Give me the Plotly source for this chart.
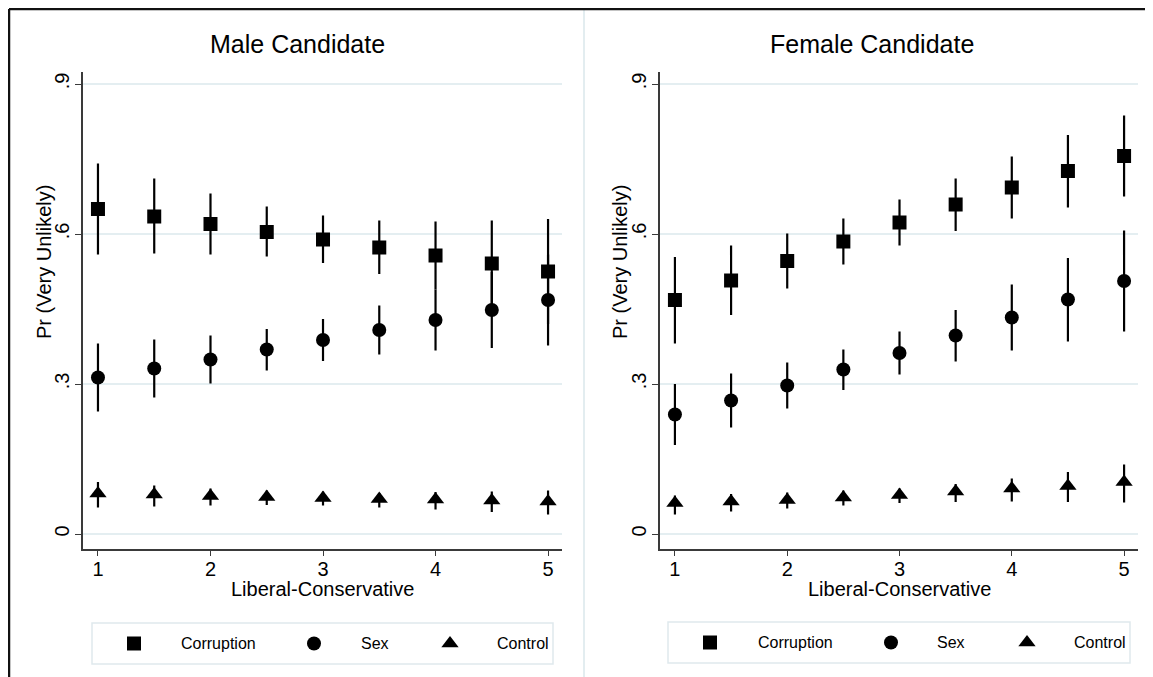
import plotly.graph_objects as go

# The page body has an 8px margin, so the figure is drawn 8px smaller and
# positions below are given in window pixels and converted with OFF.
OFF = 8
W, H = 1153 - OFF, 677 - OFF

ideology = [1, 1.5, 2, 2.5, 3, 3.5, 4, 4.5, 5]
x_ticks = [1, 2, 3, 4, 5]
y_ticks = [0, 0.3, 0.6, 0.9]
y_tick_text = ["0", ".3", ".6", ".9"]
panel_titles = ["Male Candidate", "Female Candidate"]
series_names = ["Corruption", "Sex", "Control"]

male_corr = [0.650, 0.635, 0.620, 0.604, 0.589, 0.573, 0.557, 0.541, 0.525]
male_corr_hi = [0.741, 0.711, 0.681, 0.655, 0.637, 0.627, 0.625, 0.627, 0.630]
male_corr_lo = [0.559, 0.561, 0.559, 0.555, 0.542, 0.520, 0.489, 0.455, 0.420]

male_sex = [0.313, 0.331, 0.349, 0.369, 0.388, 0.408, 0.428, 0.448, 0.468]
male_sex_hi = [0.381, 0.389, 0.397, 0.410, 0.430, 0.457, 0.489, 0.524, 0.559]
male_sex_lo = [0.245, 0.273, 0.301, 0.327, 0.346, 0.359, 0.367, 0.372, 0.377]

male_ctrl = [0.081, 0.079, 0.076, 0.074, 0.072, 0.070, 0.069, 0.067, 0.065]
male_ctrl_hi = [0.104, 0.097, 0.091, 0.087, 0.085, 0.082, 0.084, 0.085, 0.087]
male_ctrl_lo = [0.053, 0.055, 0.057, 0.058, 0.057, 0.053, 0.049, 0.044, 0.039]

fem_corr = [0.468, 0.507, 0.546, 0.585, 0.623, 0.659, 0.693, 0.726, 0.756]
fem_corr_hi = [0.554, 0.577, 0.601, 0.631, 0.669, 0.711, 0.755, 0.798, 0.837]
fem_corr_lo = [0.381, 0.438, 0.491, 0.539, 0.577, 0.606, 0.631, 0.653, 0.675]

fem_sex = [0.239, 0.267, 0.297, 0.329, 0.362, 0.397, 0.433, 0.469, 0.506]
fem_sex_hi = [0.300, 0.321, 0.343, 0.369, 0.405, 0.448, 0.499, 0.552, 0.607]
fem_sex_lo = [0.178, 0.213, 0.251, 0.288, 0.319, 0.345, 0.367, 0.385, 0.405]

fem_ctrl = [0.062, 0.065, 0.068, 0.073, 0.078, 0.085, 0.091, 0.096, 0.104]
fem_ctrl_hi = [0.077, 0.080, 0.083, 0.087, 0.091, 0.100, 0.111, 0.124, 0.139]
fem_ctrl_lo = [0.039, 0.045, 0.051, 0.057, 0.062, 0.064, 0.065, 0.064, 0.063]

FONT = "Liberation Sans, Arial, Helvetica, sans-serif"
GRID = "#e4eef1"
AXC = "#3a3a3a"
symbols = ["square", "circle", "triangle-up"]
sizes = [14, 14, 15]


def px(x):
    return (x - OFF) / W


def py(y):
    return 1 - (y - OFF) / H


fig = go.Figure()

panels = [
    ("x", "y", [(male_corr, male_corr_lo, male_corr_hi),
                (male_sex, male_sex_lo, male_sex_hi),
                (male_ctrl, male_ctrl_lo, male_ctrl_hi)]),
    ("x2", "y2", [(fem_corr, fem_corr_lo, fem_corr_hi),
                  (fem_sex, fem_sex_lo, fem_sex_hi),
                  (fem_ctrl, fem_ctrl_lo, fem_ctrl_hi)]),
]

for xa, ya, series in panels:
    for (vals, lo, hi), sym, sz, name in zip(series, symbols, sizes, series_names):
        fig.add_trace(go.Scatter(
            x=ideology, y=vals, mode="markers", name=name, showlegend=False,
            xaxis=xa, yaxis=ya,
            marker=dict(symbol=sym, size=sz, color="black", line=dict(width=0)),
            error_y=dict(type="data", symmetric=False,
                         array=[h - v for h, v in zip(hi, vals)],
                         arrayminus=[v - l for v, l in zip(vals, lo)],
                         color="black", thickness=2.2, width=0),
        ))

y_dom = [py(548.5), py(72)]
y_rng = [-0.029, 0.924]
x_rng = [0.867, 5.124]

common_x = dict(range=x_rng, tickvals=x_ticks, ticks="outside", ticklen=6, tickwidth=1.3,
                tickcolor=AXC, showline=True, linecolor=AXC, linewidth=1.5,
                showgrid=False, zeroline=False, ticklabelstandoff=-4,
                tickfont=dict(family=FONT, size=20, color="black"))
common_y = dict(range=y_rng, tickvals=y_ticks, ticktext=y_tick_text, tickangle=-90,
                ticks="outside", ticklen=6, tickwidth=1.3, tickcolor=AXC,
                showline=True, linecolor=AXC, linewidth=1.5, ticklabelstandoff=-2,
                showgrid=True, gridcolor=GRID, gridwidth=1.6, zeroline=False,
                tickfont=dict(family=FONT, size=20, color="black"), domain=y_dom)

fig.update_layout(
    xaxis=dict(domain=[px(83), px(562)], anchor="y", **common_x),
    yaxis=dict(anchor="x", **common_y),
    xaxis2=dict(domain=[px(660), px(1138)], anchor="y2", **common_x),
    yaxis2=dict(anchor="x2", **common_y),
    xaxis3=dict(domain=[0, 1], range=[OFF, 1153], visible=False, anchor="y3", fixedrange=True),
    yaxis3=dict(domain=[0, 1], range=[677, OFF], visible=False, anchor="x3", fixedrange=True),
)

# legend boxes, symbols and labels (window pixel positions)
legend_specs = [
    (92, 553, 623, 664, [134, 314, 450], [218, 375, 523]),
    (668, 1130, 622, 663, [710, 891, 1027], [795, 951, 1100]),
]
shapes = []
annotations = []
for (x0, x1, y0, y1, sym_x, txt_x) in legend_specs:
    shapes.append(dict(type="rect", xref="paper", yref="paper",
                       x0=px(x0), x1=px(x1), y0=py(y1), y1=py(y0),
                       line=dict(color="#dfe9ed", width=1.5), fillcolor="white", layer="below"))
    yc = (y0 + y1) / 2
    for sx, tx, sym, sz, name in zip(sym_x, txt_x, symbols, sizes, series_names):
        fig.add_trace(go.Scatter(x=[sx], y=[yc], mode="markers", xaxis="x3", yaxis="y3",
                                 showlegend=False, hoverinfo="skip",
                                 marker=dict(symbol=sym, size=sz, color="black")))
        annotations.append(dict(text=name, x=px(tx), y=py(yc), xref="paper", yref="paper",
                                showarrow=False, xanchor="center", yanchor="middle",
                                font=dict(family=FONT, size=16, color="black")))

# titles and axis titles
for title, cx, axc in [(panel_titles[0], 297, 322), (panel_titles[1], 872, 899)]:
    annotations.append(dict(text=title, x=px(cx), y=py(44), xref="paper", yref="paper",
                            showarrow=False, xanchor="center", yanchor="middle",
                            font=dict(family=FONT, size=25, color="black")))
    annotations.append(dict(text="Liberal-Conservative", x=px(axc), y=py(589), xref="paper", yref="paper",
                            showarrow=False, xanchor="center", yanchor="middle",
                            font=dict(family=FONT, size=20, color="black")))
for ax_x in [44, 620]:
    annotations.append(dict(text="Pr (Very Unlikely)", x=px(ax_x), y=py(262), xref="paper", yref="paper",
                            showarrow=False, xanchor="center", yanchor="middle", textangle=-90,
                            font=dict(family=FONT, size=20, color="black")))

# panel separator and outer frame
shapes.append(dict(type="line", xref="paper", yref="paper", x0=px(584), x1=px(584), y0=0, y1=py(10),
                   line=dict(color="#e3edf0", width=2)))
shapes.append(dict(type="line", xref="paper", yref="paper", x0=px(9), x1=1, y0=py(9), y1=py(9),
                   line=dict(color="#111111", width=2.5)))
shapes.append(dict(type="line", xref="paper", yref="paper", x0=px(9), x1=px(9), y0=0, y1=py(9),
                   line=dict(color="#111111", width=2.5)))

fig.update_layout(
    width=W, height=H, margin=dict(l=0, r=0, t=0, b=0),
    paper_bgcolor="white", plot_bgcolor="rgba(0,0,0,0)",
    shapes=shapes, annotations=annotations, showlegend=False,
    font=dict(family=FONT, color="black"),
)

fig.write_html("out.html")
